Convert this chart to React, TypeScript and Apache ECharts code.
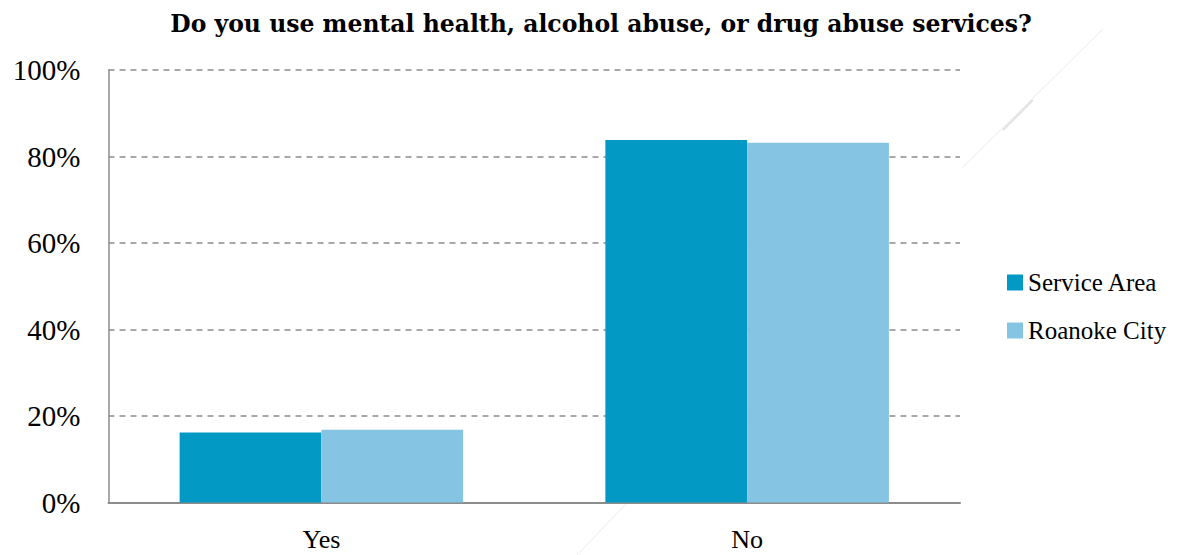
import React, { useEffect, useRef } from "react";
import * as echarts from "echarts";

const title = "Do you use mental health, alcohol abuse, or drug abuse services?";
const categories = ["Yes", "No"];
const serviceArea = [16.2, 83.8];
const roanokeCity = [16.8, 83.2];
const seriesNames = ["Service Area", "Roanoke City"];

const FONT = "'Liberation Serif', 'Times New Roman', serif";
const TITLE_FONT = "'DejaVu Serif', 'Liberation Serif', serif";

export default function App() {
  const ref = useRef<HTMLDivElement>(null);
  useEffect(() => {
    if (!ref.current) return;
    const chart = echarts.init(ref.current, undefined, { renderer: "svg" });
    chart.setOption({
      animation: false,
      backgroundColor: "#ffffff",
      title: {
        text: title,
        left: 596,
        textAlign: "center",
        top: 7,
        textStyle: { fontFamily: TITLE_FONT, fontWeight: "bold", fontSize: 23.5, color: "#000" },
      },
      legend: {
        orient: "vertical",
        left: 1002,
        top: 265,
        itemWidth: 16,
        itemHeight: 16,
        itemGap: 23,
        icon: "rect",
        textStyle: { fontFamily: FONT, fontSize: 25, color: "#000" },
        data: seriesNames,
      },
      grid: { left: 108.5, right: 238, top: 70, bottom: 52.5, containLabel: false },
      xAxis: {
        type: "category",
        data: categories,
        axisLine: { lineStyle: { color: "#8c8c8c", width: 2 } },
        axisTick: { show: false },
        axisLabel: { fontFamily: FONT, fontSize: 26, color: "#000", margin: 24 },
      },
      yAxis: {
        type: "value",
        min: 0,
        max: 100,
        interval: 20,
        axisLine: { show: true, lineStyle: { color: "#8c8c8c", width: 1.5 } },
        axisTick: { show: false },
        axisLabel: {
          fontFamily: FONT,
          fontSize: 29,
          color: "#000",
          margin: 28,
          formatter: (v: number) => `${v}%`,
        },
        splitLine: { lineStyle: { color: "#8c8c8c", type: [6, 5], width: 1.5 } },
      },
      series: [
        {
          name: seriesNames[0],
          type: "bar",
          data: serviceArea,
          itemStyle: { color: "#0299C5" },
          barGap: "0%",
          barCategoryGap: "33.4%",
        },
        {
          name: seriesNames[1],
          type: "bar",
          data: roanokeCity,
          itemStyle: { color: "#86C4E4" },
        },
      ],
      graphic: [
        {
          type: "line",
          shape: { x1: 1103, y1: 29, x2: 962, y2: 168 },
          style: { stroke: "#ececec", lineWidth: 1 },
          silent: true,
        },
        {
          type: "line",
          shape: { x1: 1033, y1: 100, x2: 1003, y2: 130 },
          style: { stroke: "#e2e2e2", lineWidth: 2 },
          silent: true,
        },
        {
          type: "line",
          shape: { x1: 627, y1: 503, x2: 577, y2: 555 },
          style: { stroke: "#ececec", lineWidth: 1 },
          silent: true,
        },
      ],
    });
    return () => chart.dispose();
  }, []);
  return (
    <div
      ref={ref}
      style={{ position: "absolute", left: 0, top: 0, width: 1198, height: 555 }}
    />
  );
}
